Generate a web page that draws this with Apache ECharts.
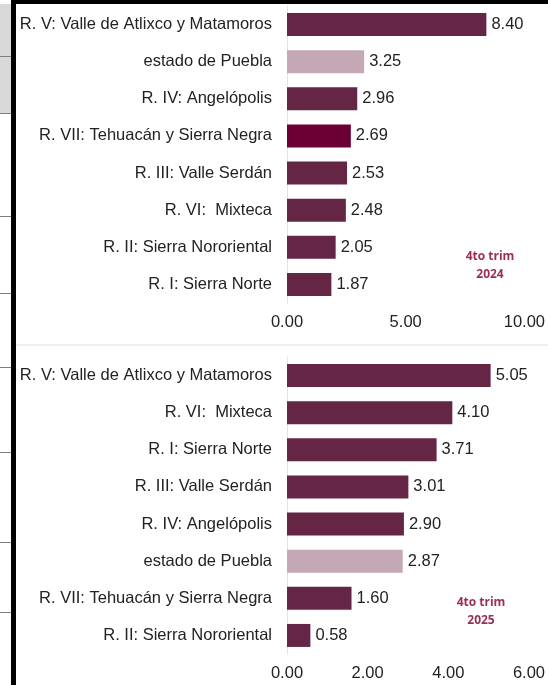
<!DOCTYPE html>
<html>
<head>
<meta charset="utf-8">
<script src="https://cdn.jsdelivr.net/npm/echarts@6/dist/echarts.min.js"></script>
<style>
  html, body { margin: 0; padding: 0; background: #fff; }
  #chart { width: 548px; height: 685px; }
</style>
</head>
<body>
<div id="chart"></div>
<script>
// 4to trim 2024
var regiones2024 = ['R. V: Valle de Atlixco y Matamoros', 'estado de Puebla', 'R. IV: Angelópolis',
  'R. VII: Tehuacán y Sierra Negra', 'R. III: Valle Serdán', 'R. VI:  Mixteca',
  'R. II: Sierra Nororiental', 'R. I: Sierra Norte'];
var valores2024 = [8.40, 3.25, 2.96, 2.69, 2.53, 2.48, 2.05, 1.87];

// 4to trim 2025
var regiones2025 = ['R. V: Valle de Atlixco y Matamoros', 'R. VI:  Mixteca', 'R. I: Sierra Norte',
  'R. III: Valle Serdán', 'R. IV: Angelópolis', 'estado de Puebla',
  'R. VII: Tehuacán y Sierra Negra', 'R. II: Sierra Nororiental'];
var valores2025 = [5.05, 4.10, 3.71, 3.01, 2.90, 2.87, 1.60, 0.58];

var ticks2024 = { min: 0, max: 10, interval: 5 };
var ticks2025 = { min: 0, max: 6, interval: 2 };

var GUINDA = '#642644';
var ESTADO = '#c5a8b6';
var RESALTE = '#6a0033';
var FONT = '"Liberation Sans", Arial, sans-serif';

function colorBarra(resaltar) {
  return function (p) {
    if (p.name === 'estado de Puebla') return ESTADO;
    if (p.name === resaltar) return RESALTE;
    return GUINDA;
  };
}

function ejeX(idx, t) {
  return {
    type: 'value', gridIndex: idx, min: t.min, max: t.max, interval: t.interval,
    axisLine: { show: false }, axisTick: { show: false }, splitLine: { show: false },
    axisLabel: {
      color: '#222', fontSize: 16.5, fontFamily: FONT, margin: 11,
      formatter: function (v) { return v.toFixed(2); }
    }
  };
}

function ejeY(idx, cats) {
  return {
    type: 'category', gridIndex: idx, data: cats, inverse: true,
    axisLine: { show: true, lineStyle: { color: '#e3e3e3', width: 1 } },
    axisTick: { show: false },
    axisLabel: { color: '#222', fontSize: 16.5, fontFamily: FONT, margin: 15 }
  };
}

function serie(idx, vals, resaltar) {
  return {
    type: 'bar', xAxisIndex: idx, yAxisIndex: idx, data: vals,
    barWidth: 23,
    itemStyle: { color: colorBarra(resaltar) },
    label: {
      show: true, position: 'right', distance: 5, color: '#222',
      fontSize: 16.5, fontFamily: FONT,
      formatter: function (p) { return p.value.toFixed(2); }
    }
  };
}

var chart = echarts.init(document.getElementById('chart'));

var marco = [
  { type: 'rect', shape: { x: 0, y: 4, width: 11, height: 109 }, style: { fill: '#d9d9d9' } },
  { type: 'rect', shape: { x: 16, y: 344, width: 532, height: 2 }, style: { fill: '#efefef' } }
];
[56, 113, 216, 293, 367, 452, 542, 612].forEach(function (y) {
  marco.push({ type: 'line', shape: { x1: 0, y1: y + 0.5, x2: 11, y2: y + 0.5 },
    style: { stroke: '#7f7f7f', lineWidth: 1 } });
});
marco.push(
  { type: 'rect', shape: { x: 11, y: 0, width: 537, height: 4 }, style: { fill: '#000' } },
  { type: 'rect', shape: { x: 11, y: 0, width: 5, height: 685 }, style: { fill: '#000' } },
  { type: 'text', x: 490, y: 248, style: { text: '4to trim\n2024', fill: '#9b2f50',
    font: 'bold 12px "Open Sans", sans-serif', align: 'center', lineHeight: 18 } },
  { type: 'text', x: 481, y: 594, style: { text: '4to trim\n2025', fill: '#9b2f50',
    font: 'bold 12px "Open Sans", sans-serif', align: 'center', lineHeight: 18 } }
);

chart.setOption({
  animation: false,
  grid: [
    { left: 287, right: 17, top: 6, height: 297 },
    { left: 287, right: 17, top: 357, height: 297 }
  ],
  xAxis: [ejeX(0, ticks2024), ejeX(1, ticks2025)],
  yAxis: [ejeY(0, regiones2024), ejeY(1, regiones2025)],
  series: [
    serie(0, valores2024, 'R. VII: Tehuacán y Sierra Negra'),
    serie(1, valores2025, null)
  ],
  graphic: marco
});
</script>
</body>
</html>
